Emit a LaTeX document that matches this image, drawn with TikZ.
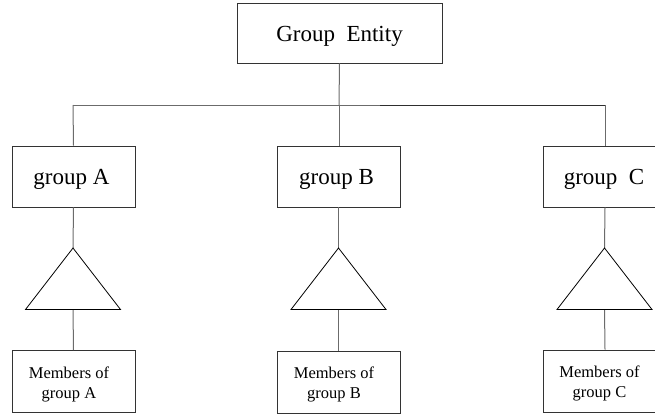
\documentclass[tikz,border=0pt]{standalone}
\usepackage{fontspec}
\setmainfont{Liberation Serif}
\begin{document}
\begin{tikzpicture}[x=1pt,y=-1pt,
  box/.style={draw=black!80, line width=0.9pt, rectangle, inner sep=0pt},
  grpbox/.style={box, minimum width=123pt, minimum height=61pt},
  membox/.style={box, minimum width=123pt, minimum height=62pt},
  bigtext/.style={inner sep=0pt, font=\fontsize{23}{26}\selectfont},
  memtext/.style={inner sep=0pt, align=center, font=\fontsize{16.5}{20}\selectfont},
  link/.style={draw=black!58, line width=1pt},
  darklink/.style={draw=black!82, line width=1pt},
  tri/.style={draw=black, line width=0.8pt, line join=miter}]
\useasboundingbox (0,0) rectangle (655,416);

% top entity
\node[box, minimum width=205pt, minimum height=60pt] (top) at (339.5,33) {};
\node[bigtext] (topt) at ([yshift=-3pt]top.center) {Group\ \ Entity};

% the three groups
\node[grpbox] (ga) at (73.5,176.5) {};
\node[grpbox] (gb) at (338.5,176.5) {};
\node[grpbox, minimum width=124pt] (gc) at (605,176.5) {};
\node[bigtext] (gat) at ([xshift=-2pt,yshift=-3pt]ga.center) {group A};
\node[bigtext] (gbt) at ([xshift=-2pt,yshift=-3pt]gb.center) {group B};
\node[bigtext] (gct) at ([xshift=-1pt,yshift=-3pt]gc.center) {group\ \ C};

% member boxes
\node[membox] (ma) at (73.5,381.5) {};
\node[membox] (mb) at (338.5,382) {};
\node[membox, minimum width=124pt] (mc) at (605,381) {};
\node[memtext] (mat) at ([xshift=-4.5pt,yshift=-2.5pt]ma.center) {Members of\\group A};
\node[memtext] (mbt) at ([xshift=-4.5pt,yshift=-2.5pt]mb.center) {Members of\\group B};
\node[memtext] (mct) at ([xshift=-5.5pt,yshift=-2.5pt]mc.center) {Members of\\group C};

% junction points of the bus line
\coordinate (ja) at (73,105);
\coordinate (jb) at (339,105);
\coordinate (jm) at (380,105);
\coordinate (jc) at (605,105);

% triangle apex and base points
\coordinate (ta) at (73,248);   \coordinate (tab) at (73,309.5);
\coordinate (tb) at (338.5,248); \coordinate (tbb) at (338.5,309.5);
\coordinate (tc) at (604.5,248); \coordinate (tcb) at (604.5,309.5);

% tree connectors
\draw[link] (top.south) -- (jb);
\draw[link] (ja) -- (jm);
\draw[darklink] (jm) -- (jc);
\draw[link] (ja) -- (ga.north);
\draw[link] (jb) -- (gb.north -| jb);
\draw[link] (jc) -- (gc.north);

% group to triangle to members
\draw[link] (ga.south) -- (ta);
\draw[link] (gb.south) -- (tb);
\draw[link] (gc.south) -- (tc);
\draw[link] (tab) -- (ma.north);
\draw[link] (tbb) -- (mb.north);
\draw[link] (tcb) -- (mc.north);

% triangles
\draw[tri] (ta) -- ([xshift=47.5pt]tab) -- ([xshift=-47.5pt]tab) -- cycle;
\draw[tri] (tb) -- ([xshift=47.5pt]tbb) -- ([xshift=-47.5pt]tbb) -- cycle;
\draw[tri] (tc) -- ([xshift=47.5pt]tcb) -- ([xshift=-47.5pt]tcb) -- cycle;
\end{tikzpicture}
\end{document}
